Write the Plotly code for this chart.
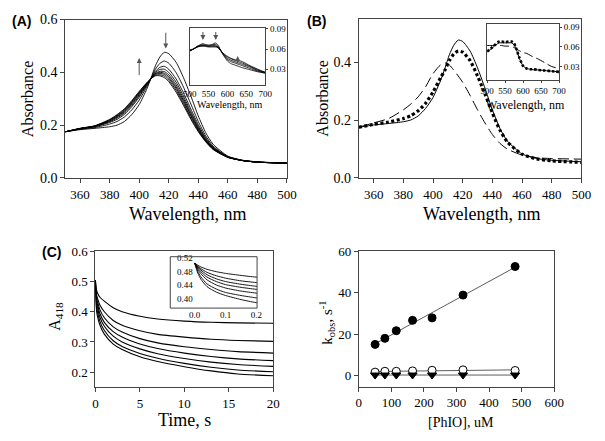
import numpy as np
import plotly.graph_objects as go

# ---------------- Panel A : spectra (350-500 nm) ----------------
wl_a = [350, 360, 370, 380, 385, 390, 395, 400, 405, 408, 411, 414, 417, 420, 425, 430, 435, 440, 445, 450, 460, 470, 480, 500]
spec_a1 = [.175, .183, .188, .194, .200, .214, .240, .278, .335, .378, .425, .458, .476, .471, .438, .380, .310, .235, .172, .128, .083, .067, .061, .056]
spec_a2 = [.175, .185, .191, .204, .214, .231, .258, .295, .344, .377, .412, .434, .443, .435, .399, .344, .280, .214, .160, .121, .081, .067, .061, .056]
spec_a3 = [.175, .186, .194, .210, .222, .241, .270, .306, .349, .377, .404, .419, .423, .412, .375, .322, .261, .202, .153, .117, .080, .066, .060, .056]
spec_a4 = [.175, .186, .195, .213, .227, .246, .275, .311, .352, .377, .400, .411, .412, .400, .363, .310, .251, .195, .149, .115, .080, .066, .060, .056]
spec_a5 = [.175, .187, .196, .215, .230, .250, .280, .316, .354, .376, .396, .404, .403, .391, .353, .301, .244, .190, .145, .113, .079, .066, .060, .056]
spec_a6 = [.175, .187, .196, .217, .233, .253, .284, .319, .356, .376, .394, .400, .397, .384, .345, .294, .238, .186, .143, .112, .079, .066, .060, .056]
spec_a7 = [.175, .187, .197, .219, .235, .256, .287, .322, .357, .376, .392, .396, .392, .378, .339, .288, .233, .182, .141, .110, .079, .066, .060, .056]
spec_a8 = [.175, .188, .197, .220, .238, .259, .290, .325, .359, .376, .389, .391, .386, .371, .332, .281, .227, .179, .139, .109, .078, .066, .060, .056]
spec_a9 = [.175, .188, .198, .222, .240, .262, .293, .328, .360, .376, .387, .387, .380, .365, .325, .275, .222, .175, .137, .108, .078, .066, .060, .056]
spectra_a = [spec_a1, spec_a2, spec_a3, spec_a4, spec_a5, spec_a6, spec_a7, spec_a8, spec_a9]

# Panel A inset (500-700 nm)
wl_i = [500, 510, 520, 530, 535, 540, 550, 560, 568, 575, 580, 590, 600, 610, 620, 630, 640, 660, 680, 700]
ins_a1 = [.057, .060, .064, .067, .068, .067, .066, .067, .069, .066, .060, .050, .042, .038, .036, .034, .032, .029, .026, .024]
ins_a2 = [.057, .060, .064, .066, .066, .066, .065, .066, .067, .064, .060, .051, .044, .041, .039, .037, .035, .031, .027, .024]
ins_a3 = [.058, .060, .063, .065, .066, .065, .064, .065, .065, .063, .059, .052, .046, .043, .041, .039, .037, .033, .028, .025]
ins_a4 = [.058, .060, .063, .065, .065, .065, .064, .064, .064, .063, .059, .052, .048, .045, .043, .041, .039, .034, .029, .025]
ins_a5 = [.058, .060, .063, .064, .064, .064, .063, .063, .063, .062, .059, .053, .049, .046, .044, .043, .041, .035, .030, .025]
insets_a = [ins_a1, ins_a2, ins_a3, ins_a4, ins_a5]

# ---------------- Panel B ----------------
spec_b_solid = spec_a1
spec_b_dotted = [.175, .185, .193, .205, .215, .232, .258, .297, .345, .372, .405, .428, .438, .434, .405, .352, .290, .225, .166, .125, .082, .066, .059, .054]
spec_b_dashed = [.175, .190, .205, .235, .255, .280, .315, .360, .390, .397, .390, .372, .352, .330, .285, .235, .190, .150, .120, .100, .079, .070, .067, .065]
ins_b_solid = [.053, .056, .061, .065, .066, .066, .066, .066, .066, .063, .058, .042, .031, .027, .026, .025, .025, .024, .023, .022]
ins_b_dotted = [.053, .057, .062, .067, .068, .068, .067, .068, .068, .065, .059, .043, .031, .027, .026, .026, .025, .024, .023, .022]
ins_b_dashed = [.062, .062, .062, .062, .062, .062, .061, .061, .060, .059, .057, .054, .051, .050, .047, .044, .042, .036, .030, .027]

# ---------------- Panel C : A418 time courses ----------------
time_c = [0, 0.01, 0.02, 0.04, 0.07, 0.1, 0.15, 0.2, 0.5, 1, 2, 3, 5, 7, 10, 13, 16, 20]
trace_c1 = [0.505, 0.499, 0.494, 0.487, 0.480, 0.475, 0.469, 0.464, 0.448, 0.435, 0.413, 0.400, 0.385, 0.376, 0.369, 0.365, 0.363, 0.362]
trace_c2 = [0.505, 0.496, 0.489, 0.478, 0.468, 0.461, 0.453, 0.448, 0.422, 0.400, 0.371, 0.355, 0.337, 0.325, 0.316, 0.309, 0.305, 0.302]
trace_c3 = [0.505, 0.494, 0.485, 0.471, 0.459, 0.451, 0.443, 0.437, 0.407, 0.380, 0.350, 0.333, 0.311, 0.297, 0.284, 0.275, 0.268, 0.263]
trace_c4 = [0.505, 0.491, 0.480, 0.464, 0.451, 0.442, 0.434, 0.428, 0.394, 0.365, 0.334, 0.316, 0.293, 0.278, 0.263, 0.252, 0.244, 0.238]
trace_c5 = [0.505, 0.487, 0.474, 0.456, 0.441, 0.432, 0.423, 0.417, 0.382, 0.352, 0.319, 0.300, 0.277, 0.261, 0.245, 0.233, 0.225, 0.219]
trace_c6 = [0.505, 0.481, 0.465, 0.444, 0.429, 0.419, 0.410, 0.403, 0.368, 0.338, 0.304, 0.285, 0.262, 0.246, 0.229, 0.216, 0.207, 0.201]
trace_c7 = [0.505, 0.476, 0.458, 0.436, 0.420, 0.410, 0.398, 0.389, 0.356, 0.326, 0.293, 0.275, 0.251, 0.235, 0.218, 0.204, 0.194, 0.188]
traces_c = [trace_c1, trace_c2, trace_c3, trace_c4, trace_c5, trace_c6, trace_c7]

# ---------------- Panel D : kobs vs [PhIO] ----------------
phio = [50, 80, 115, 165, 225, 320, 480]
k_filled = [15.1, 18.0, 21.7, 26.7, 27.9, 38.9, 52.7]
k_open = [1.7, 2.1, 2.1, 2.3, 2.6, 2.8, 2.5]
k_tri = [0.3, 0.3, 0.3, 0.3, 0.3, 0.3, 0.3]

SERIF = "Liberation Serif"
SANS = "Liberation Sans"
AX = "#444"

fig = go.Figure()

def line(x, y, xa, ya, dash="solid", width=1.0, color="black"):
    fig.add_trace(go.Scatter(x=x, y=y, mode="lines", xaxis=xa, yaxis=ya,
                             line=dict(color=color, width=width, dash=dash, shape="spline", smoothing=0.6),
                             showlegend=False, hoverinfo="skip"))

for s in spectra_a:
    line(wl_a, s, "x", "y", width=0.9)
for s in insets_a:
    line(wl_i, s, "x2", "y2", width=0.8)

line(wl_a, spec_b_solid, "x3", "y3", width=1.0)
line(wl_a, spec_b_dashed, "x3", "y3", dash="11px,5px", width=1.0)
line(wl_a, spec_b_dotted, "x3", "y3", dash="3px,2.5px", width=3.2)
line(wl_i, ins_b_solid, "x4", "y4", width=1.0)
line(wl_i, ins_b_dashed, "x4", "y4", dash="9px,4px", width=1.0)
line(wl_i, ins_b_dotted, "x4", "y4", dash="2.5px,2px", width=2.6)

for t in traces_c:
    line(time_c, t, "x5", "y5", width=1.1)
    line(time_c, t, "x6", "y6", width=0.9)

# Panel D
for kv, sym, fill in [(k_filled, "circle", "black"), (k_open, "circle", "white"), (k_tri, "triangle-down", "black")]:
    slope, icpt = np.polyfit(phio, kv, 1)
    fx = [phio[0], phio[-1]]
    fig.add_trace(go.Scatter(x=fx, y=[slope * v + icpt for v in fx], mode="lines", xaxis="x7", yaxis="y7",
                             line=dict(color="#333", width=0.8), showlegend=False, hoverinfo="skip"))
    fig.add_trace(go.Scatter(x=phio, y=kv, mode="markers", xaxis="x7", yaxis="y7",
                             marker=dict(symbol=sym, size=8, color=fill, line=dict(color="black", width=1)),
                             showlegend=False, hoverinfo="skip"))

W, H = 605, 441
def dx(a, b):
    return [a / W, b / W]
def dy(top, bottom):
    return [1 - bottom / H, 1 - top / H]

def axis(domain, rng, tickvals, ticktext=None, anchor=None, side=None, size=13, ticks="outside", **kw):
    d = dict(domain=domain, range=rng, tickvals=tickvals, showline=True, linecolor=AX, linewidth=1,
             mirror=True, ticks=ticks, ticklen=4, tickcolor=AX, showgrid=False, zeroline=False,
             tickfont=dict(family=SERIF, size=size, color="black"), anchor=anchor)
    if ticktext is not None:
        d["ticktext"] = ticktext
    if side:
        d["side"] = side
    d.update(kw)
    return d

layout = dict(width=W, height=H, margin=dict(l=0, r=0, t=0, b=0),
              font=dict(family=SERIF, color="black"),
              paper_bgcolor="white", plot_bgcolor="rgba(0,0,0,0)", showlegend=False)

# A
layout["xaxis"] = axis(dx(60, 288), [350, 500], [360, 380, 400, 420, 440, 460, 480, 500], anchor="y", size=13)
layout["yaxis"] = axis(dy(13, 177), [0, 0.6], [0, 0.2, 0.4, 0.6], ["0.0", "0.2", "0.4", "0.6"], anchor="x", size=14)
layout["xaxis2"] = axis(dx(188, 265.7), [500, 700], [500, 550, 600, 650, 700], anchor="y2", size=9, ticks="")
layout["yaxis2"] = axis(dy(21.7, 81), [0.0059, 0.0914], [0.03, 0.06, 0.09], ["0.03", "0.06", "0.09"],
                        anchor="x2", side="right", size=9, ticklen=2)
# B
layout["xaxis3"] = axis(dx(362, 591), [350, 500], [360, 380, 400, 420, 440, 460, 480, 500], anchor="y3", size=13)
layout["yaxis3"] = axis(dy(12, 177), [0, 0.55], [0, 0.2, 0.4], ["0.0", "0.2", "0.4"], anchor="x3", size=14)
layout["xaxis4"] = axis(dx(494, 568), [500, 700], [500, 550, 600, 650, 700], anchor="y4", size=9, ticklen=2)
layout["yaxis4"] = axis(dy(18, 76), [0.009, 0.094], [0.03, 0.06, 0.09], ["0.03", "0.06", "0.09"],
                        anchor="x4", side="right", size=9, ticklen=2)
# C
layout["xaxis5"] = axis(dx(91, 274), [0, 20], [0, 5, 10, 15, 20], anchor="y5", size=13)
layout["yaxis5"] = axis(dy(253, 393.6), [0.15, 0.6], [0.2, 0.3, 0.4, 0.5, 0.6], ["0.2", "0.3", "0.4", "0.5", "0.6"],
                        anchor="x5", size=13)
layout["xaxis6"] = axis(dx(168, 257.3), [-0.079, 0.202], [0.0, 0.1, 0.2], ["0.0", "0.1", "0.2"], anchor="y6",
                        size=9, ticks="", showline=False)
layout["yaxis6"] = axis(dy(258.5, 311.7), [0.373, 0.524], [0.40, 0.44, 0.48, 0.52], ["0.40", "0.44", "0.48", "0.52"],
                        anchor="free", position=191 / W, size=9, ticks="", showline=False)
# D
layout["xaxis7"] = axis(dx(362, 563), [0, 600], [0, 100, 200, 300, 400, 500, 600], anchor="y7", size=13)
layout["yaxis7"] = axis(dy(253, 393), [-5.3, 60], [0, 20, 40, 60], anchor="x7", size=13)

layout["shapes"] = [dict(type="rect", xref="x6 domain", yref="y6 domain", x0=0, x1=1, y0=0, y1=1,
                         line=dict(color=AX, width=1), fillcolor="rgba(0,0,0,0)")]

def ann(text, x, y, size=16, family=SERIF, angle=0, bold=False):
    if bold:
        text = "<b>" + text + "</b>"
    return dict(text=text, x=x / W, y=1 - y / H, xref="paper", yref="paper", showarrow=False,
                font=dict(family=family, size=size, color="black"), textangle=angle,
                xanchor="center", yanchor="middle")

annots = [
    ann("(A)", 15, 14, size=14, family=SANS, bold=True),
    ann("(B)", 318, 14, size=14, family=SANS, bold=True),
    ann("(C)", 46, 254, size=14, family=SANS, bold=True),
    ann("Absorbance", 21, 95, angle=-90),
    ann("Absorbance", 325, 95, angle=-90),
    ann("Wavelength, nm", 186, 214, size=18),
    ann("Wavelength, nm", 489, 214, size=18),
    ann("Wavelength, nm", 229, 101, size=10),
    ann("Wavelength, nm", 534, 101, size=12),
    ann("Time, s", 183, 428, size=18),
    ann("A<sub>418</sub>", 49, 320, angle=-90),
    ann("k<sub>obs</sub>, s<sup>-1</sup>", 329, 327, angle=-90, size=15),
    ann("[PhIO], uM", 467, 430, size=14),
]

def arrow(x, y, ax, ay, xa, ya):
    return dict(x=x, y=y, ax=ax, ay=ay, xref=xa, yref=ya, axref=xa, ayref=ya, showarrow=True,
                arrowhead=2, arrowsize=1, arrowwidth=1, arrowcolor="#555", text="")

annots += [
    arrow(400, 0.454, 400, 0.384, "x", "y"),
    arrow(418, 0.49, 418, 0.556, "x", "y"),
    arrow(535, 0.0733, 535, 0.0877, "x2", "y2"),
    arrow(569, 0.0733, 569, 0.0877, "x2", "y2"),
    arrow(627, 0.0496, 627, 0.0386, "x2", "y2"),
]
layout["annotations"] = annots

fig.update_layout(**layout)
fig.write_html("out.html", config={"displayModeBar": False},
               post_script="document.body.style.margin='0px';document.body.style.overflow='hidden';")
